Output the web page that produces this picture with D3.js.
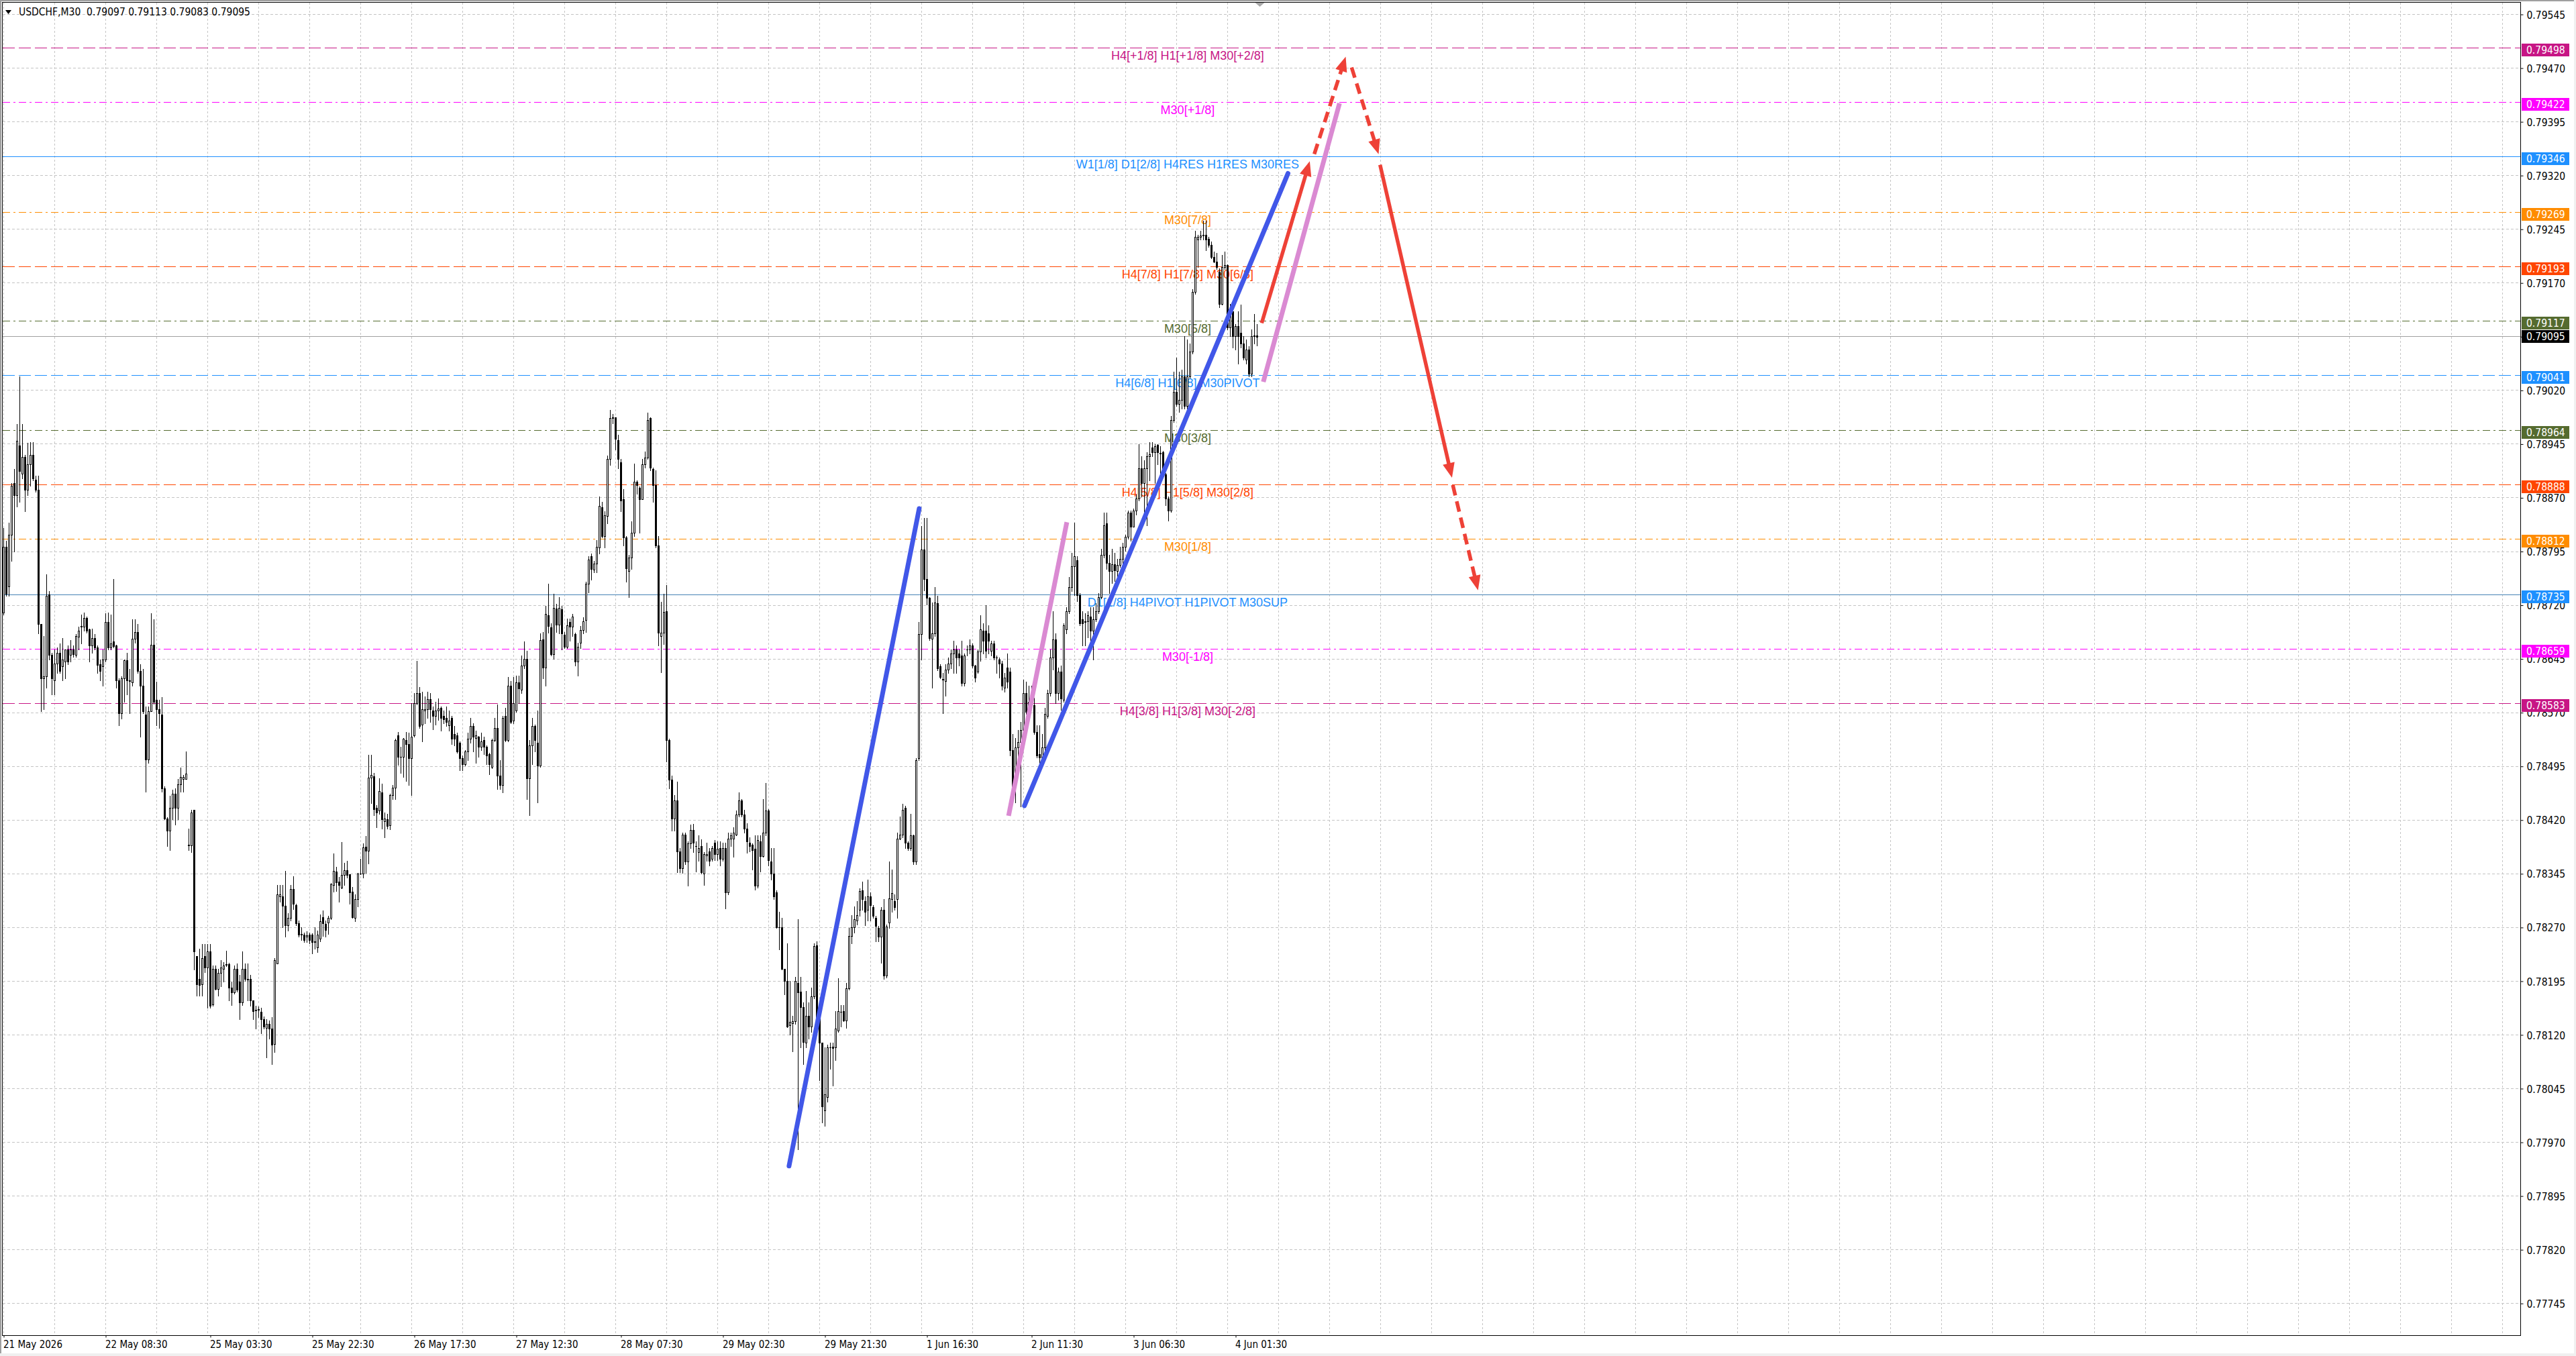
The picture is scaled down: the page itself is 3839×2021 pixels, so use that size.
<!DOCTYPE html>
<html><head><meta charset="utf-8">
<script src="https://cdn.jsdelivr.net/npm/d3@7"></script>
<style>
html,body{margin:0;padding:0;background:#fff;overflow:hidden}
svg{display:block}
.ax{font-family:"DejaVu Sans Condensed","DejaVu Sans",sans-serif;font-stretch:condensed;font-size:15.5px}
.lv{font-family:"Liberation Sans",Arial,sans-serif;font-size:18px}
</style></head>
<body>
<svg id="c" width="3839" height="2021"></svg>
<script>
// ---------------- DATA ----------------
const symbolTitle = "USDCHF,M30";
const lastOHLC = [0.79097, 0.79113, 0.79083, 0.79095];
const BASE = 0.77; // candle values below are in points (0.00001) above BASE
// [open, high, low, close] for each M30 bar, oldest first
const ohlcPts = [
[1710,1828,1707,1802],[1802,1810,1733,1736],[1746,1835,1733,1818],[1818,1891,1782,1887],[1891,1910,1795,1874],[1874,1973,1858,1950],
[1943,2040,1864,1907],[1904,1973,1897,1927],[1927,1930,1851,1881],[1881,1947,1874,1917],[1917,1948,1887,1930],[1930,1948,1894,1897],
[1895,1901,1878,1881],[1881,1901,1681,1694],[1694,1694,1572,1618],[1618,1677,1575,1621],[1621,1763,1605,1733],[1735,1740,1644,1651],
[1651,1654,1595,1618],[1615,1658,1595,1639],[1639,1661,1625,1654],[1654,1667,1625,1628],[1635,1674,1615,1644],[1641,1658,1618,1658],
[1658,1664,1638,1641],[1651,1671,1641,1658],[1658,1664,1648,1652],[1651,1680,1648,1677],[1676,1690,1658,1684],[1690,1707,1667,1691],
[1690,1710,1684,1702],[1702,1704,1682,1684],[1686,1687,1641,1664],[1664,1687,1654,1674],[1674,1680,1658,1661],[1661,1664,1625,1637],
[1638,1644,1615,1628],[1635,1658,1608,1644],[1644,1709,1641,1697],[1697,1710,1658,1661],[1661,1707,1658,1667],[1669,1757,1661,1663],
[1664,1665,1605,1615],[1615,1618,1552,1569],[1569,1621,1562,1618],[1618,1644,1585,1643],[1643,1654,1595,1615],[1615,1631,1569,1614],
[1612,1700,1608,1673],[1673,1700,1668,1683],[1683,1694,1625,1628],[1628,1638,1536,1608],[1608,1631,1569,1572],[1567,1579,1460,1505],
[1505,1579,1500,1572],[1572,1709,1572,1665],[1665,1700,1582,1585],[1588,1613,1552,1575],[1575,1588,1549,1569],[1567,1592,1460,1464],
[1464,1467,1421,1422],[1422,1424,1384,1405],[1405,1454,1378,1437],[1437,1462,1421,1457],[1457,1464,1414,1437],[1437,1477,1421,1470],
[1470,1493,1460,1480],[1477,1483,1460,1480],[1477,1516,1477,1485],[1385,1408,1378,1386],[1385,1434,1375,1431],[1434,1434,1211,1237],
[1230,1230,1175,1191],[1198,1240,1175,1190],[1191,1247,1175,1227],[1230,1247,1208,1214],[1214,1247,1158,1237],[1237,1247,1158,1161],
[1163,1217,1161,1212],[1212,1217,1183,1184],[1184,1212,1175,1207],[1207,1224,1188,1214],[1212,1222,1194,1217],[1218,1238,1216,1219],
[1219,1221,1168,1186],[1186,1194,1162,1179],[1179,1217,1178,1212],[1212,1220,1180,1183],[1194,1204,1142,1165],[1165,1237,1162,1212],
[1212,1220,1195,1198],[1198,1220,1168,1197],[1198,1204,1161,1168],[1168,1168,1142,1153],[1154,1161,1129,1155],[1155,1160,1145,1156],
[1152,1158,1122,1142],[1142,1146,1129,1132],[1130,1142,1089,1135],[1135,1140,1115,1129],[1129,1145,1079,1106],[1107,1227,1096,1224],
[1220,1329,1220,1316],[1313,1329,1306,1316],[1313,1329,1270,1300],[1300,1349,1257,1273],[1273,1290,1266,1283],[1283,1329,1280,1324],
[1324,1342,1296,1303],[1301,1303,1273,1276],[1276,1280,1257,1260],[1260,1270,1253,1261],[1260,1263,1250,1253],[1257,1265,1250,1259],
[1260,1263,1248,1253],[1260,1262,1234,1250],[1250,1270,1240,1251],[1242,1266,1236,1260],[1254,1288,1251,1279],[1284,1294,1258,1276],
[1275,1280,1257,1267],[1277,1286,1261,1283],[1283,1332,1282,1330],[1329,1373,1320,1349],[1348,1355,1321,1333],[1334,1341,1306,1329],
[1326,1389,1325,1343],[1343,1360,1329,1350],[1350,1363,1340,1343],[1344,1344,1303,1319],[1320,1327,1283,1284],[1283,1316,1279,1310],
[1310,1346,1299,1345],[1345,1366,1344,1345],[1345,1387,1340,1382],[1383,1398,1346,1377],[1377,1511,1359,1479],[1479,1511,1444,1483],
[1481,1486,1427,1435],[1437,1441,1410,1431],[1433,1478,1429,1461],[1459,1471,1408,1421],[1418,1431,1396,1422],[1421,1429,1408,1412],
[1413,1457,1407,1455],[1455,1469,1449,1465],[1465,1534,1449,1532],[1538,1543,1497,1508],[1508,1522,1486,1508],[1508,1535,1480,1534],
[1532,1543,1475,1526],[1526,1542,1469,1506],[1506,1583,1455,1536],[1538,1597,1536,1583],[1583,1642,1581,1597],[1597,1606,1549,1551],
[1553,1599,1530,1575],[1573,1593,1555,1575],[1575,1599,1563,1589],[1589,1597,1557,1575],[1573,1579,1547,1565],[1565,1585,1553,1573],
[1573,1590,1560,1576],[1577,1579,1545,1563],[1565,1573,1555,1561],[1563,1579,1551,1557],[1552,1573,1545,1559],[1563,1565,1526,1534],
[1540,1551,1524,1534],[1538,1542,1514,1516],[1528,1530,1490,1506],[1506,1510,1490,1498],[1498,1518,1496,1516],[1516,1542,1504,1534],
[1534,1563,1528,1551],[1551,1555,1516,1536],[1535,1545,1500,1538],[1536,1537,1508,1522],[1522,1542,1518,1530],[1532,1536,1512,1522],
[1522,1524,1498,1510],[1512,1514,1484,1498],[1494,1534,1492,1532],[1532,1563,1530,1549],[1549,1581,1463,1482],[1482,1504,1463,1469],
[1469,1565,1459,1563],[1565,1577,1530,1532],[1532,1620,1530,1608],[1608,1614,1555,1557],[1559,1620,1555,1583],[1573,1622,1571,1612],
[1612,1622,1583,1604],[1602,1650,1597,1636],[1636,1669,1632,1645],[1645,1656,1449,1478],[1478,1532,1427,1524],[1524,1563,1498,1551],
[1551,1553,1516,1532],[1528,1573,1445,1496],[1496,1681,1494,1671],[1672,1683,1618,1633],[1633,1719,1608,1708],[1706,1750,1682,1691],
[1689,1695,1650,1652],[1652,1736,1645,1716],[1715,1722,1683,1693],[1693,1731,1681,1716],[1714,1719,1658,1681],[1679,1683,1660,1662],
[1662,1701,1660,1692],[1697,1701,1670,1690],[1690,1708,1677,1704],[1680,1682,1636,1641],[1641,1668,1622,1662],[1668,1691,1660,1685],
[1685,1703,1681,1698],[1699,1753,1683,1750],[1750,1788,1738,1784],[1788,1792,1756,1771],[1770,1782,1766,1778],[1778,1811,1766,1802],
[1801,1872,1792,1859],[1857,1864,1815,1817],[1817,1851,1801,1846],[1845,1929,1834,1924],[1924,1993,1916,1981],[1981,1987,1974,1982],
[1982,1982,1937,1952],[1951,1958,1911,1924],[1920,1924,1851,1866],[1868,1882,1803,1815],[1815,1817,1753,1772],[1768,1790,1731,1787],
[1787,1837,1771,1821],[1821,1918,1817,1892],[1892,1894,1876,1888],[1884,1886,1821,1868],[1868,1924,1868,1917],[1917,1935,1912,1926],
[1926,1989,1924,1979],[1981,1982,1908,1912],[1910,1912,1864,1888],[1888,1908,1801,1803],[1803,1817,1664,1682],[1677,1725,1626,1682],
[1682,1736,1666,1711],[1712,1748,1502,1532],[1532,1534,1464,1476],[1476,1482,1405,1422],[1422,1455,1405,1447],[1447,1474,1347,1376],
[1376,1381,1347,1353],[1353,1402,1346,1400],[1400,1402,1358,1362],[1362,1390,1328,1387],[1387,1414,1381,1406],[1406,1415,1375,1388],
[1384,1390,1348,1384],[1375,1399,1363,1381],[1384,1393,1345,1347],[1345,1375,1329,1372],[1371,1388,1363,1372],[1376,1381,1357,1363],
[1366,1384,1363,1381],[1388,1392,1364,1372],[1372,1390,1364,1380],[1381,1390,1357,1366],[1366,1388,1363,1381],[1381,1388,1297,1319],
[1319,1402,1316,1394],[1394,1402,1384,1399],[1394,1410,1369,1402],[1400,1433,1399,1428],[1428,1459,1425,1447],[1447,1449,1425,1428],
[1428,1434,1402,1408],[1408,1416,1374,1390],[1388,1396,1376,1384],[1386,1387,1351,1378],[1380,1399,1323,1328],[1328,1399,1326,1392],
[1390,1399,1348,1370],[1370,1449,1369,1402],[1402,1472,1399,1433],[1433,1435,1357,1364],[1362,1381,1337,1345],[1345,1381,1310,1313],
[1319,1322,1269,1270],[1270,1292,1239,1270],[1270,1283,1211,1212],[1212,1212,1177,1195],[1195,1248,1131,1132],[1134,1195,1120,1138],
[1136,1147,1097,1139],[1139,1201,1135,1195],[1193,1282,960,1179],[1180,1201,1103,1159],[1159,1165,1079,1110],[1109,1181,1103,1147],
[1147,1165,1115,1132],[1132,1186,1124,1174],[1174,1248,1171,1244],[1245,1251,1138,1144],[1144,1144,1057,1109],[1109,1109,998,1020],
[1015,1103,993,1037],[1033,1106,1027,1103],[1103,1109,1073,1103],[1104,1109,1049,1102],[1103,1153,1085,1129],[1126,1199,1124,1153],
[1152,1162,1132,1152],[1153,1162,1139,1140],[1140,1193,1130,1185],[1185,1269,1183,1258],[1258,1287,1248,1270],[1270,1299,1263,1282],
[1280,1307,1274,1287],[1295,1325,1286,1321],[1322,1334,1295,1310],[1307,1313,1273,1292],[1295,1337,1280,1313],[1313,1319,1280,1301],
[1298,1301,1283,1286],[1283,1286,1251,1272],[1269,1272,1251,1257],[1257,1298,1221,1295],[1295,1310,1198,1203],[1203,1274,1200,1271],
[1277,1362,1269,1311],[1310,1351,1292,1318],[1307,1316,1295,1298],[1310,1402,1283,1394],[1394,1425,1393,1400],[1400,1443,1396,1434],
[1437,1440,1381,1388],[1388,1390,1378,1381],[1381,1429,1378,1399],[1399,1400,1358,1362],[1362,1506,1358,1504],[1506,1697,1504,1680],
[1680,1831,1644,1798],[1798,1842,1741,1757],[1757,1842,1721,1730],[1730,1731,1671,1674],[1673,1724,1605,1681],[1681,1745,1677,1724],
[1723,1733,1629,1632],[1635,1638,1618,1620],[1617,1625,1569,1616],[1614,1638,1594,1630],[1630,1647,1625,1639],[1639,1658,1632,1653],
[1653,1670,1625,1658],[1658,1664,1625,1647],[1653,1658,1636,1647],[1650,1670,1608,1611],[1611,1653,1608,1650],[1658,1664,1650,1658],
[1658,1672,1653,1664],[1664,1667,1633,1636],[1636,1637,1613,1619],[1627,1658,1625,1655],[1655,1706,1642,1686],[1684,1695,1653,1670],
[1684,1720,1647,1656],[1681,1692,1653,1670],[1656,1670,1650,1667],[1667,1670,1644,1647],[1647,1650,1625,1647],[1644,1647,1619,1639],
[1639,1642,1602,1608],[1605,1625,1599,1619],[1633,1653,1605,1613],[1627,1633,1510,1518],[1518,1540,1445,1467],[1467,1535,1445,1521],
[1521,1546,1490,1529],[1529,1557,1439,1546],[1546,1616,1540,1597],[1597,1613,1568,1571],[1571,1608,1568,1585],[1588,1608,1578,1580],
[1580,1591,1540,1543],[1543,1552,1507,1510],[1512,1552,1495,1507],[1507,1540,1501,1521],[1521,1577,1518,1568],[1565,1602,1563,1597],
[1597,1658,1594,1647],[1647,1712,1630,1672],[1672,1681,1583,1597],[1597,1633,1588,1627],[1627,1636,1574,1590],[1588,1695,1585,1692],
[1686,1717,1681,1712],[1712,1759,1709,1745],[1745,1793,1740,1774],[1774,1835,1734,1788],[1783,1788,1726,1734],[1734,1737,1692,1695],
[1700,1712,1664,1695],[1697,1709,1664,1698],[1698,1712,1675,1706],[1704,1717,1670,1684],[1684,1717,1644,1700],[1700,1723,1698,1712],
[1712,1737,1709,1731],[1731,1799,1729,1790],[1790,1849,1787,1832],[1834,1849,1771,1779],[1779,1790,1737,1768],[1768,1799,1751,1777],
[1777,1793,1754,1769],[1768,1785,1757,1776],[1776,1802,1773,1785],[1785,1807,1776,1802],[1802,1818,1796,1816],[1816,1852,1813,1849],
[1849,1852,1810,1830],[1830,1855,1830,1852],[1852,1875,1847,1869],[1869,1945,1866,1911],[1911,1928,1872,1891],[1891,1922,1849,1911],
[1911,1934,1832,1928],[1928,1948,1894,1931],[1940,1948,1928,1934],[1934,1945,1891,1942],[1944,1945,1917,1934],[1932,1942,1894,1933],
[1934,1936,1898,1900],[1903,1905,1860,1869],[1869,1872,1838,1852],[1852,1984,1850,1979],[1979,2046,1976,2018],[2018,2066,1998,2001],
[2001,2046,1990,2007],[2007,2049,1995,2040],[2040,2096,1995,1998],[1998,2091,1995,2040],[2040,2085,2038,2074],[2074,2161,2071,2158],
[2158,2243,2155,2234],[2231,2237,2192,2234],[2234,2243,2231,2236],[2236,2257,2231,2237],[2237,2257,2216,2231],[2232,2234,2220,2223],
[2223,2228,2204,2206],[2206,2214,2199,2200],[2200,2212,2189,2192],[2186,2190,2136,2141],[2141,2209,2140,2192],[2192,2214,2189,2195],
[2195,2196,2105,2108],[2108,2141,2096,2130],[2130,2130,2080,2096],[2096,2113,2077,2110],[2110,2130,2057,2096],[2100,2140,2080,2085],
[2085,2096,2063,2066],[2063,2091,2057,2077],[2077,2082,2040,2043],[2043,2105,2040,2096],[2096,2127,2085,2097],[2097,2113,2083,2095]
];

const timeLabelBars = [0,38,77,115,153,191,230,268,306,344,383,421,459];
const timeLabelText = ["21 May 2026","22 May 08:30","25 May 03:30","25 May 22:30","26 May 17:30","27 May 12:30",
  "28 May 07:30","29 May 02:30","29 May 21:30","1 Jun 16:30","2 Jun 11:30","3 Jun 06:30","4 Jun 01:30"];

const priceTicks = [0.79545,0.79470,0.79395,0.79320,0.79245,0.79170,0.79095,0.79020,0.78945,0.78870,0.78795,0.78720,
  0.78645,0.78570,0.78495,0.78420,0.78345,0.78270,0.78195,0.78120,0.78045,0.77970,0.77895,0.77820,0.77745];

const levelPrices = [0.79498,0.79422,0.79346,0.79269,0.79193,0.79117,0.79041,0.78964,0.78888,0.78812,0.78735,0.78659,0.78583];
const levelLabels = ["H4[+1/8] H1[+1/8] M30[+2/8]","M30[+1/8]","W1[1/8] D1[2/8] H4RES H1RES M30RES","M30[7/8]",
  "H4[7/8] H1[7/8] M30[6/8]","M30[5/8]","H4[6/8] H1[6/8] M30PIVOT","M30[3/8]","H4[5/8] H1[5/8] M30[2/8]","M30[1/8]",
  "D1[1/8] H4PIVOT H1PIVOT M30SUP","M30[-1/8]","H4[3/8] H1[3/8] M30[-2/8]"];
const currentPrice = 0.79095;

// hand-drawn objects: [barIndex, price] end points
const blueTrends = [[[292.6,0.77937],[341.1,0.78855]], [[380.3,0.78440],[478.5,0.79323]]];
const pinkTrends = [[[374.4,0.78426],[396.1,0.78836]], [[469.3,0.79032],[497.7,0.79421]]];
const arrowSegs = [[[468.7,0.79114],[486.6,0.79340]], [[488.3,0.79350],[500.0,0.79486]], [[502.2,0.79471],[512.25,0.79350]],
  [[512.8,0.79335],[539.6,0.78898]], [[539.9,0.78888],[549.3,0.78741]]];
const arrowDashed = [false,true,true,false,true];

// ---------------- STYLE ----------------
const levelLineColor = ["#C71585","#FF00FF","#1E90FF","#FF8C00","#FF4500","#556B2F","#1E90FF","#556B2F","#FF4500","#FF8C00","#4682B4","#FF00FF","#C71585"];
const levelBoxColor  = ["#C71585","#FF00FF","#1E90FF","#FF8C00","#FF4500","#556B2F","#1E90FF","#556B2F","#FF4500","#FF8C00","#1E90FF","#FF00FF","#C71585"];
const levelDash = ["18,6","11,5,3,5",null,"11,5,3,5","18,6","11,5,3,5","18,6","11,5,3,5","18,6","11,5,3,5",null,"11,5,3,5","18,6"];

// ---------------- DRAW ----------------
const W = 3839, H = 2021;
const P = {l:4, r:3756, t:4, b:1990};
const BAR_LAST = ohlcPts.length - 1;
const x = d3.scaleLinear().domain([0, BAR_LAST]).range([5.5, 5.5 + 4*BAR_LAST]);
const y = d3.scaleLinear().domain([0.777007, 0.795614]).range([P.b, P.t]);
const pr = v => BASE + v/1e5;
const cr = v => Math.floor(v) + 0.5;

const svg = d3.select("#c");
svg.append("rect").attr("width",W).attr("height",H).attr("fill","#fff");
svg.append("defs").append("clipPath").attr("id","clip").append("rect")
  .attr("x",P.l).attr("y",P.t).attr("width",P.r-P.l).attr("height",P.b-P.t);
const g = svg.append("g").attr("clip-path","url(#clip)");

// grid
const gridBars = d3.range(0, 50).map(k => k*19);
g.append("g").selectAll("line").data(gridBars).join("line")
  .attr("x1",d=>cr(x(d))).attr("x2",d=>cr(x(d))).attr("y1",P.t).attr("y2",P.b)
  .attr("stroke","#c4c4c4").attr("stroke-width",1).attr("stroke-dasharray","3,3");
g.append("g").selectAll("line").data(priceTicks).join("line")
  .attr("x1",P.l).attr("x2",P.r).attr("y1",d=>cr(y(d))).attr("y2",d=>cr(y(d)))
  .attr("stroke","#c4c4c4").attr("stroke-width",1).attr("stroke-dasharray","4,3");

// level lines
g.append("g").selectAll("line").data(levelPrices).join("line")
  .attr("x1",P.l).attr("x2",P.r).attr("y1",d=>cr(y(d))).attr("y2",d=>cr(y(d)))
  .attr("stroke",(d,i)=>levelLineColor[i]).attr("stroke-width",1)
  .attr("stroke-dasharray",(d,i)=>levelDash[i]);
// current price line
g.append("line").attr("x1",P.l).attr("x2",P.r).attr("y1",cr(y(currentPrice))).attr("y2",cr(y(currentPrice)))
  .attr("stroke","#a0a0a0").attr("stroke-width",1);

// level texts
const labelBar = 441.1;
g.append("g").selectAll("text").data(levelPrices).join("text").attr("class","lv")
  .attr("x",x(labelBar)).attr("y",d=>cr(y(d))+17).attr("text-anchor","middle")
  .attr("fill",(d,i)=>levelBoxColor[i]).text((d,i)=>levelLabels[i]);

// candles
const cg = g.append("g");
ohlcPts.forEach((c,i)=>{
  const [o,h,l,cl] = c.map(pr);
  const cx = x(i);
  cg.append("line").attr("x1",cx).attr("x2",cx).attr("y1",Math.round(y(h))).attr("y2",Math.round(y(l))+1)
    .attr("stroke","#000").attr("stroke-width",1);
  const top = Math.round(y(Math.max(o,cl))), bot = Math.round(y(Math.min(o,cl)));
  if (bot - top < 1) {
    cg.append("line").attr("x1",cx-1.5).attr("x2",cx+1.5).attr("y1",top+0.5).attr("y2",top+0.5)
      .attr("stroke","#000").attr("stroke-width",1);
  } else if (cl >= o) {
    cg.append("rect").attr("x",cx-1).attr("y",top+0.5).attr("width",2).attr("height",bot-top)
      .attr("fill","#fff").attr("stroke","#000").attr("stroke-width",1);
  } else {
    cg.append("rect").attr("x",cx-1.5).attr("y",top).attr("width",3).attr("height",bot-top+1)
      .attr("fill","#000");
  }
});

// trend lines
const ln = d3.line().x(d=>x(d[0])).y(d=>y(d[1]));
g.append("g").selectAll("path").data(pinkTrends).join("path").attr("d",ln)
  .attr("stroke","#DA8AD2").attr("stroke-width",7).attr("fill","none").attr("stroke-linecap","butt");
g.append("g").selectAll("path").data(blueTrends).join("path").attr("d",ln)
  .attr("stroke","#4157E8").attr("stroke-width",7).attr("fill","none").attr("stroke-linecap","round");

// arrows
const ag = g.append("g");
arrowSegs.forEach((s,i)=>{
  const x0=x(s[0][0]), y0=y(s[0][1]), x1=x(s[1][0]), y1=y(s[1][1]);
  const dx=x1-x0, dy=y1-y0, len=Math.hypot(dx,dy), ux=dx/len, uy=dy/len;
  const L=22, Wd=9;
  ag.append("line").attr("x1",x0).attr("y1",y0).attr("x2",x1-ux*L*0.8).attr("y2",y1-uy*L*0.8)
    .attr("stroke","#EE4137").attr("stroke-width",5.5)
    .attr("stroke-dasharray",arrowDashed[i]?"16,9":null);
  const bx=x1-ux*L, by=y1-uy*L;
  ag.append("path").attr("d",`M${x1},${y1}L${bx-uy*Wd},${by+ux*Wd}L${bx+uy*Wd},${by-ux*Wd}Z`).attr("fill","#EE4137");
});

// chart-shift marker
svg.append("path").attr("d",`M${x(BAR_LAST)-3},4L${x(BAR_LAST)+11},4L${x(BAR_LAST)+4},10Z`).attr("fill","#a8a8a8");

// frame
svg.append("rect").attr("x",P.l-0.5).attr("y",P.t-0.5).attr("width",P.r-P.l+1).attr("height",P.b-P.t+1)
  .attr("fill","none").attr("stroke","#000").attr("stroke-width",1);

// right axis
const ya = svg.append("g").attr("class","ax").attr("transform",`translate(${P.r+0.5},0)`)
  .call(d3.axisRight(y).tickValues(priceTicks).tickFormat(d3.format(".5f")).tickSize(4).tickPadding(5));
ya.select(".domain").remove();
ya.selectAll(".tick line").attr("stroke","#000");
ya.selectAll(".tick text").attr("fill","#000").attr("font-size","15.5px").attr("dy","0.36em")
  .attr("font-family",'"DejaVu Sans Condensed","DejaVu Sans",sans-serif');

// bottom axis
const xa = svg.append("g").attr("class","ax").attr("transform",`translate(0,${P.b+0.5})`)
  .call(d3.axisBottom(x).tickValues(timeLabelBars).tickFormat((d,i)=>timeLabelText[i]).tickSize(3).tickPadding(5));
xa.select(".domain").remove();
xa.selectAll(".tick line").attr("stroke","#000");
xa.selectAll(".tick text").attr("fill","#000").attr("text-anchor","start").attr("x",-1).attr("dy","0.71em")
  .attr("font-size","15px").attr("font-family",'"DejaVu Sans Condensed","DejaVu Sans",sans-serif');

// price boxes
const pb = svg.append("g").attr("class","ax");
levelPrices.forEach((p,i)=>{
  const yy = cr(y(p));
  pb.append("rect").attr("x",P.r+2).attr("y",yy-6.5).attr("width",71).attr("height",19).attr("fill",levelBoxColor[i]);
  pb.append("text").attr("x",P.r+9).attr("y",yy+8.5).attr("fill","#fff").text(d3.format(".5f")(p));
});
{
  const yy = cr(y(currentPrice));
  pb.append("rect").attr("x",P.r+2).attr("y",yy-9.5).attr("width",71).attr("height",19).attr("fill","#000");
  pb.append("text").attr("x",P.r+9).attr("y",yy+5.5).attr("fill","#fff").text(d3.format(".5f")(currentPrice));
}

// header
svg.append("path").attr("d","M8,15L17,15L12.5,21Z").attr("fill","#000");
svg.append("text").attr("class","ax").attr("x",28).attr("y",23).attr("font-size","16px").attr("fill","#000")
  .attr("xml:space","preserve").style("white-space","pre")
  .text(symbolTitle + "  " + lastOHLC.map(d3.format(".5f")).join(" "));

// window edges
svg.append("rect").attr("x",0).attr("y",0).attr("width",W).attr("height",2).attr("fill","#a0a0a0");
svg.append("rect").attr("x",0).attr("y",0).attr("width",2).attr("height",H).attr("fill","#a0a0a0");
svg.append("rect").attr("x",0).attr("y",2017).attr("width",W).attr("height",4).attr("fill","#f0f0f0");
svg.append("rect").attr("x",W-3).attr("y",0).attr("width",3).attr("height",H).attr("fill","#f0f0f0");
</script>
</body></html>
